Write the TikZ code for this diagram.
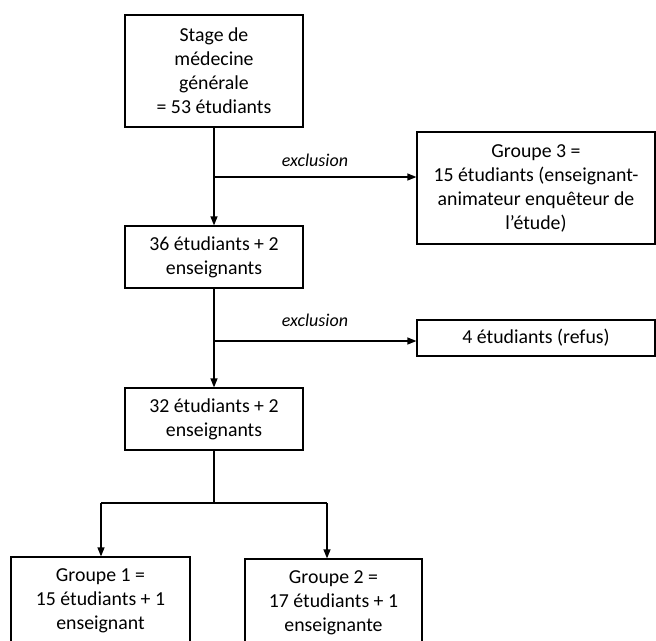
\documentclass[tikz,border=0pt]{standalone}
\usepackage{fontspec}
\setmainfont{Carlito}
\usetikzlibrary{arrows.meta}
\begin{document}
\begin{tikzpicture}[x=1pt,y=-1pt,
  box/.style={draw=black,line width=1.2pt,rectangle,inner sep=0pt,align=center,
    font=\fontsize{19.8}{24}\selectfont},
  lab/.style={font=\fontsize{18}{20}\selectfont\itshape,inner sep=0pt},
  conn/.style={line width=1.2pt},
  arr/.style={conn,-{Triangle[length=9pt,width=7pt]}}]
\useasboundingbox (0,0) rectangle (656,640);
\clip (0,0) rectangle (656,640);
\fill[white] (0,0) rectangle (656,640);
\node[box,minimum width=178pt,minimum height=112pt] (a) at (214,71)
  {Stage de\\médecine\\générale\\= 53 étudiants};
\node[box,minimum width=178pt,minimum height=62pt] (b) at (214,257)
  {36 étudiants + 2\\enseignants};
\node[box,minimum width=178pt,minimum height=62pt] (c) at (214,419)
  {32 étudiants + 2\\enseignants};
\node[box,minimum width=238pt,minimum height=112pt] (g3) at (536,188)
  {Groupe 3 =\\15 étudiants (enseignant-\\animateur enquêteur de\\l’étude)};
\node[box,minimum width=238pt,minimum height=36pt] (r) at (536,338)
  {4 étudiants (refus)};
\node[box,minimum width=179pt,minimum height=88pt] (g1) at (100.5,601)
  {Groupe 1 =\\15 étudiants + 1\\enseignant};
\node[box,minimum width=177pt,minimum height=88pt] (g2) at (333.5,603)
  {Groupe 2 =\\17 étudiants + 1\\enseignante};
\coordinate (j1) at (214,177);
\coordinate (j2) at (214,341);
\coordinate (j3) at (214,503);
\coordinate (l3) at (101,503);
\coordinate (r3) at (327,503);
\draw[arr] (a.south) -- (b.north);
\draw[arr] (j1) -- (j1 -| g3.west);
\draw[arr] (b.south) -- (c.north);
\draw[arr] (j2) -- (j2 -| r.west);
\draw[conn] (c.south) -- (j3);
\draw[conn] (l3) -- (r3);
\draw[arr] (l3) -- (l3 |- g1.north);
\draw[arr] (r3) -- (r3 |- g2.north);
\node[lab] (e1) at (315,160) {exclusion};
\node[lab] (e2) at (315,320) {exclusion};
\end{tikzpicture}
\end{document}
